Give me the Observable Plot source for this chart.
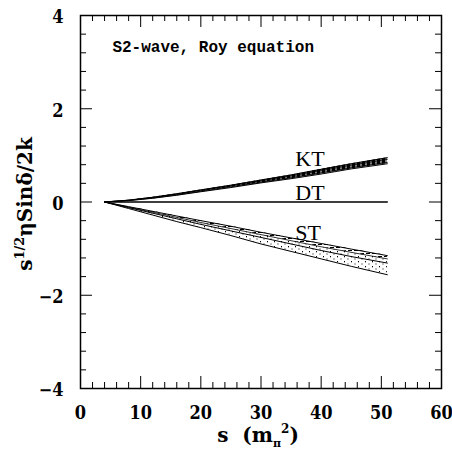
<!DOCTYPE html>
<html><head><meta charset="utf-8">
<script src="https://cdn.jsdelivr.net/npm/d3@7"></script>
<script src="https://cdn.jsdelivr.net/npm/@observablehq/plot@0.6"></script>
<style>body{margin:0;background:#fff} #chart{width:452px;height:450px}</style>
</head><body><div id="chart"></div><script>
// ---- data ----
const s      = [4, 8, 12, 16, 20, 25, 30, 35, 40, 45, 51];
const ktTop  = [0, 0.040, 0.100, 0.175, 0.260, 0.360, 0.470, 0.580, 0.700, 0.820, 0.950];
const ktMid1 = [0, 0.037, 0.095, 0.168, 0.250, 0.350, 0.455, 0.560, 0.675, 0.790, 0.915];
const ktMid2 = [0, 0.033, 0.085, 0.152, 0.230, 0.325, 0.425, 0.520, 0.625, 0.735, 0.850];
const ktBot  = [0, 0.030, 0.080, 0.145, 0.220, 0.310, 0.410, 0.500, 0.600, 0.710, 0.820];
const dt     = [0, 0, 0, 0, 0, 0, 0, 0, 0, 0, 0];
const stUp   = [0, -0.10, -0.20, -0.30, -0.40, -0.52, -0.650, -0.770, -0.890, -1.010, -1.150];
const stUp2  = [0, -0.11, -0.22, -0.33, -0.44, -0.57, -0.700, -0.830, -0.960, -1.080, -1.220];
const stMid  = [0, -0.12, -0.24, -0.36, -0.48, -0.62, -0.760, -0.900, -1.040, -1.170, -1.310];
const stLow  = [0, -0.14, -0.28, -0.42, -0.55, -0.72, -0.900, -1.060, -1.220, -1.380, -1.560];
const labelNames = ["KT", "DT", "ST"];
const labelS     = [35.7, 35.7, 35.7];
const labelY     = [0.77, 0.04, -0.82];
const subtitle   = "S2-wave, Roy equation";
const xTicks = [0, 10, 20, 30, 40, 50, 60];
const yTicks = [-4, -2, 0, 2, 4];
const xMinor = [2,4,6,8,12,14,16,18,22,24,26,28,32,34,36,38,42,44,46,48,52,54,56,58];
const yMinor = [-3.6,-3.2,-2.8,-2.4,-1.6,-1.2,-0.8,-0.4,0.4,0.8,1.2,1.6,2.4,2.8,3.2,3.6];

const rows = s.map((v, i) => ({s: v, ktTop: ktTop[i], ktMid1: ktMid1[i], ktMid2: ktMid2[i], ktBot: ktBot[i],
  dt: dt[i], stUp: stUp[i], stUp2: stUp2[i], stMid: stMid[i], stLow: stLow[i]}));
const labels = labelNames.map((t, i) => ({t, s: labelS[i], y: labelY[i]}));

const W = 452, H = 450, mL = 80, mR = 11, mT = 15, mB = 62;
const innerW = W - mL - mR, innerH = H - mT - mB;
const MAJ = 12, MIN = 6;
const serif = "DejaVu Serif";
const tickFont = "'DejaVu Serif Condensed', 'DejaVu Serif'";

const line = (key, w = 1) => Plot.line(rows, {x: "s", y: key, stroke: "black", strokeWidth: w});

const plot = Plot.plot({
  width: W, height: H, marginLeft: mL, marginRight: mR, marginTop: mT, marginBottom: mB,
  x: {domain: [0, 60]}, y: {domain: [-4, 4]},
  style: {background: "white", color: "black", overflow: "visible"},
  marks: [
    Plot.areaY(rows, {x: "s", y1: "ktBot", y2: "ktTop", fill: "url(#hatchK)"}),
    Plot.areaY(rows, {x: "s", y1: "stLow", y2: "stUp2", fill: "url(#dots)"}),
    Plot.areaY(rows, {x: "s", y1: "stUp2", y2: "stUp", fill: "url(#hatch)"}),
    line("ktTop"), line("ktMid1", 0.8), line("ktMid2", 0.8), line("ktBot"),
    line("dt", 1.3),
    line("stUp"), line("stUp2", 0.8), line("stMid"), line("stLow"),
    // inward ticks on all four sides
    Plot.ruleX(xTicks, {x: d => d, insetTop: innerH - MAJ}),
    Plot.ruleX(xMinor, {x: d => d, insetTop: innerH - MIN}),
    Plot.ruleX(xTicks, {x: d => d, insetBottom: innerH - MAJ}),
    Plot.ruleX(xMinor, {x: d => d, insetBottom: innerH - MIN}),
    Plot.ruleY(yTicks, {y: d => d, insetRight: innerW - MAJ}),
    Plot.ruleY(yMinor, {y: d => d, insetRight: innerW - MIN}),
    Plot.ruleY(yTicks, {y: d => d, insetLeft: innerW - MAJ}),
    Plot.ruleY(yMinor, {y: d => d, insetLeft: innerW - MIN}),
    Plot.axisX(xTicks, {tickSize: 0, tickPadding: 18, label: null, fontSize: 18, fontWeight: "bold", fontFamily: tickFont}),
    Plot.axisY(yTicks, {tickSize: 0, tickPadding: 17, label: null, fontSize: 18, fontWeight: "bold", fontFamily: tickFont, dy: 2}),
    Plot.text(labels, {x: "s", y: "y", text: "t", textAnchor: "start", lineAnchor: "bottom",
      fontSize: 22, fontFamily: "Liberation Serif", fill: "black"}),
    Plot.text([subtitle], {x: [5.3], y: [3.21], text: d => d, textAnchor: "start", lineAnchor: "bottom",
      fontSize: 16, fontWeight: "bold", fontFamily: "Liberation Mono", fill: "black"}),
    Plot.frame({stroke: "black", strokeWidth: 1.5})
  ]
});

const svg = d3.select(plot);
const defs = svg.insert("defs", ":first-child");
const hatch = defs.append("pattern").attr("id", "hatch").attr("patternUnits", "userSpaceOnUse")
  .attr("width", 6).attr("height", 3);
hatch.append("rect").attr("width", 6).attr("height", 3).attr("fill", "#fff");
hatch.append("line").attr("x1", 0).attr("y1", 1.5).attr("x2", 4).attr("y2", 1.5).attr("stroke", "#000").attr("stroke-width", 1);
const hatchK = defs.append("pattern").attr("id", "hatchK").attr("patternUnits", "userSpaceOnUse")
  .attr("width", 5).attr("height", 2);
hatchK.append("rect").attr("width", 5).attr("height", 2).attr("fill", "#000");
hatchK.append("rect").attr("x", 0).attr("y", 0.5).attr("width", 2).attr("height", 1).attr("fill", "#fff");
const dots = defs.append("pattern").attr("id", "dots").attr("patternUnits", "userSpaceOnUse")
  .attr("width", 7).attr("height", 5);
dots.append("rect").attr("width", 7).attr("height", 5).attr("fill", "#fff");
dots.append("rect").attr("x", 1).attr("y", 1).attr("width", 1).attr("height", 1.3).attr("fill", "#000");
dots.append("rect").attr("x", 4.5).attr("y", 3.5).attr("width", 1).attr("height", 1).attr("fill", "#000");

// axis titles with sub/superscripts
const yl = svg.append("text").attr("transform", "translate(32,204) rotate(-90)")
  .attr("text-anchor", "middle").attr("font-family", serif).attr("font-weight", "bold")
  .attr("font-size", 20).attr("fill", "black");
yl.append("tspan").text("s");
yl.append("tspan").attr("font-size", 13).attr("dy", -8).text("1/2");
yl.append("tspan").attr("dy", 8).text("ηSinδ/2k");

const xl = svg.append("text").attr("x", 258).attr("y", 442)
  .attr("text-anchor", "middle").attr("font-family", serif).attr("font-weight", "bold")
  .attr("font-size", 20).attr("fill", "black");
xl.append("tspan").text("s\u00A0\u00A0(m");
xl.append("tspan").attr("font-size", 11).attr("dy", 5).text("π");
xl.append("tspan").attr("font-size", 12).attr("dy", -14).text("2");
xl.append("tspan").attr("dy", 9).text(")");

document.getElementById("chart").appendChild(plot);
</script></body></html>
